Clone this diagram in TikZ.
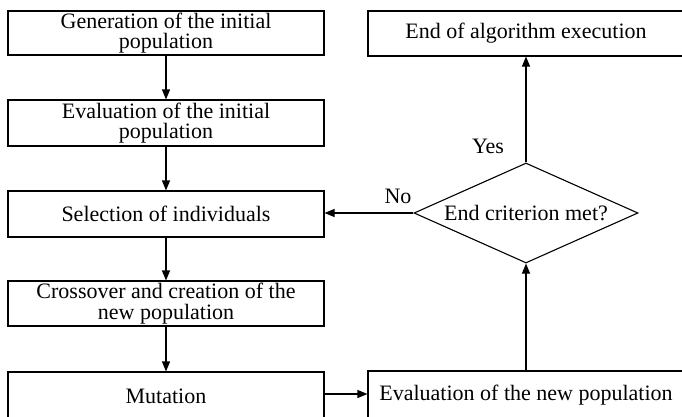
\documentclass[tikz,border=0pt]{standalone}
\usepackage{fontspec}
\setmainfont{Liberation Serif}
\usetikzlibrary{shapes.geometric,arrows.meta}
\begin{document}
\begin{tikzpicture}[x=1pt,y=-1pt,
  every node/.style={font=\fontsize{22}{20.5}\selectfont},
  box/.style={draw,line width=1.1pt,minimum width=316pt,minimum height=45pt,inner sep=0pt,align=center},
  dec/.style={draw,line width=1.1pt,shape=diamond,shape aspect=2.24,minimum width=224pt,minimum height=100pt,inner sep=0pt},
  arr/.style={line width=1.1pt,-{Triangle[length=10pt,width=8pt]}},
  lbl/.style={inner sep=0pt}]
\useasboundingbox (0,0) rectangle (682,416);
\node[box,minimum height=44pt] (b1) at (166,33) {Generation of the initial\\population};
\node[box,minimum height=46pt] (b2) at (166,123) {Evaluation of the initial\\population};
\node[box,minimum height=46pt] (b3) at (166,214) {Selection of individuals};
\node[box] (b4) at (166,303.5) {Crossover and creation of the\\new population};
\node[box,minimum height=48pt] (b5) at (166,396) {Mutation};
\node[box] (r1) at (526,33.5) {End of algorithm execution};
\node[box,minimum height=48pt] (r2) at (526,395) {Evaluation of the new population};
\node[dec] (d) at (526,213) {End criterion met?};
\draw[arr] (b1) -- (b2);
\draw[arr] (b2) -- (b3);
\draw[arr] (b3) -- (b4);
\draw[arr] (b4) -- (b5);
\draw[arr] (b5.east |- 0,394) -- (r2.west |- 0,394);
\draw[arr] (r2.north) -- (d.south);
\draw[arr] (d.north) -- (r1.south);
\draw[arr] (d.west) -- (d.west -| b3.east);
\node[lbl] (yes) at (488,146) {Yes};
\node[lbl] (no) at (398,196) {No};
\end{tikzpicture}
\end{document}
